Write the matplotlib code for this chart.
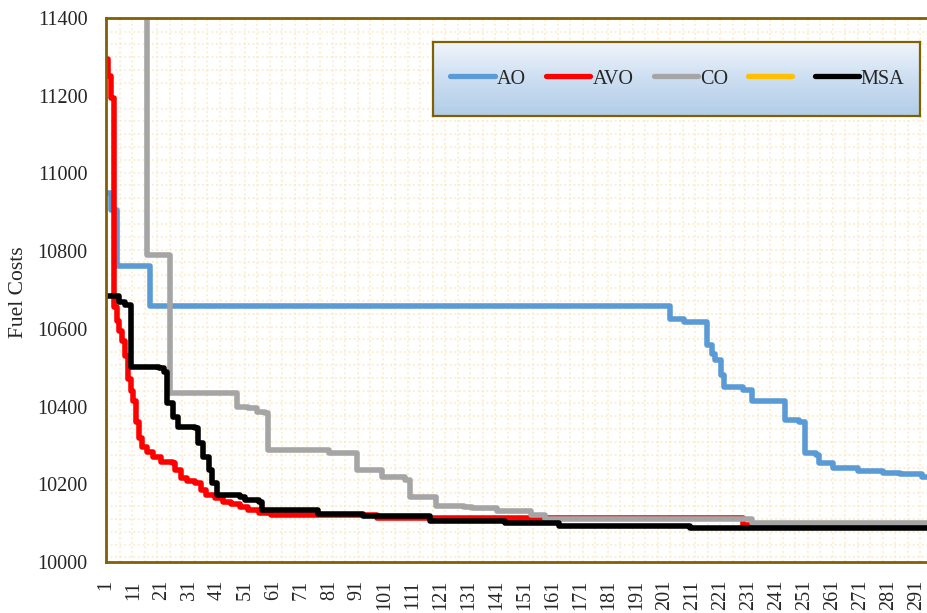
import matplotlib
matplotlib.use("Agg")
import matplotlib.pyplot as plt
import numpy as np
from matplotlib.lines import Line2D
from matplotlib.ticker import MultipleLocator
from matplotlib.colors import LinearSegmentedColormap

plt.rcParams['font.family'] = ['Liberation Serif', 'DejaVu Serif']

# Best fuel cost found so far, listed at the iterations where it improves
ao_iter = [1, 3, 5, 17, 203, 208, 216, 218, 219, 221, 222, 229, 232, 244, 249,
           251, 255, 256, 261, 270, 279, 285, 293, 300]
ao_cost = [10950, 10905, 10762, 10660, 10625, 10618, 10558, 10535, 10520, 10480,
           10450, 10443, 10415, 10366, 10361, 10280, 10275, 10256, 10243, 10233,
           10229, 10226, 10219, 10219]

avo_iter = [1, 2, 3, 4, 5, 6, 7, 8, 9, 10, 11, 12, 13, 14, 16, 18, 21, 25, 26,
            28, 30, 33, 35, 37, 40, 43, 46, 49, 52, 56, 60, 98, 229, 300]
avo_cost = [11295, 11250, 11195, 10655, 10620, 10595, 10570, 10530, 10470, 10440,
            10415, 10360, 10320, 10295, 10283, 10271, 10258, 10254, 10237, 10215,
            10208, 10203, 10185, 10172, 10165, 10155, 10148, 10142, 10133, 10127,
            10122, 10113, 10094, 10094]

co_iter = [1, 16, 24, 48, 52, 55, 58, 59, 81, 91, 100, 108, 110, 119, 129, 132,
           141, 153, 158, 232, 300]
co_cost = [12600, 10790, 10434, 10400, 10396, 10387, 10383, 10288, 10280, 10237,
           10220, 10211, 10168, 10145, 10141, 10138, 10130, 10121, 10110, 10100,
           10100]

msa_iter = [1, 6, 8, 10, 20, 22, 23, 25, 27, 33, 34, 36, 38, 39, 41, 49, 51, 56,
            57, 77, 93, 117, 144, 163, 210, 300]
msa_cost = [10684, 10670, 10661, 10503, 10499, 10490, 10408, 10374, 10348, 10344,
            10306, 10271, 10237, 10203, 10173, 10168, 10160, 10155, 10134, 10124,
            10118, 10105, 10100, 10092, 10088, 10088]

legend_labels = ["AO", "AVO", "CO", "", "MSA"]
legend_colors = ["#5B9BD5", "#FF0000", "#A5A5A5", "#FFC000", "#000000"]

x_ticks = list(range(1, 301, 10))
y_ticks = [10000, 10200, 10400, 10600, 10800, 11000, 11200, 11400]

series = [
    (ao_iter, ao_cost, "#5B9BD5"),
    (avo_iter, avo_cost, "#FF0000"),
    (co_iter, co_cost, "#A5A5A5"),
    (msa_iter, msa_cost, "#000000"),
]

W, H = 927, 613
fig = plt.figure(figsize=(W / 100, H / 100), dpi=100)
fig.patch.set_facecolor("white")

# plot area runs past the right edge of the canvas
left_px, top_px, bottom_px, px_per_iter = 105.5, 18, 562, 2.797
right_px = left_px + (x_ticks[-1] + 9 - 1) * px_per_iter
ax = fig.add_axes([left_px / W, 1 - bottom_px / H,
                   (right_px - left_px) / W, (bottom_px - top_px) / H])

for xs, ys, col in series:
    ax.plot(xs, ys, drawstyle="steps-post", color=col, lw=4.0,
            solid_joinstyle="round", solid_capstyle="butt")

ax.set_xlim(1, 300)
ax.set_ylim(10000, 11400)
ax.set_xticks(x_ticks)
ax.set_xticklabels([str(t) for t in x_ticks], rotation=90)
ax.set_yticks(y_ticks)
ax.tick_params(axis="both", which="major", length=0, pad=13, labelsize=14.5,
               colors="#262626")

# fine dotted pattern in the plot background
ax.xaxis.set_minor_locator(MultipleLocator(4.47, offset=1.7))
ax.yaxis.set_minor_locator(MultipleLocator(33, offset=13))
ax.tick_params(which="minor", length=0)
ax.grid(which="minor", color="#FCE9C4", linestyle=(0, (1.2, 1.8)), lw=1.1)
ax.grid(which="major", visible=False)
ax.set_axisbelow(True)

spine_col = "#806000"
for side in ("left", "bottom", "top"):
    ax.spines[side].set_color(spine_col)
    ax.spines[side].set_linewidth(2.0)
ax.spines["right"].set_visible(False)

fig.text(19 / W, 1 - 292 / H, "Fuel Costs", rotation=90, ha="center",
         va="center", fontsize=15.5, color="#262626")

# legend panel with a vertical blue gradient
bx0, by0, bx1, by1 = 433, 42, 920, 116
lax = fig.add_axes([bx0 / W, 1 - by1 / H, (bx1 - bx0) / W, (by1 - by0) / H],
                   zorder=3)
cmap = LinearSegmentedColormap.from_list("panel", ["#F1F5FB", "#CCDEF1", "#B2CDE8"])
lax.imshow(np.linspace(0, 1, 256).reshape(-1, 1), aspect="auto", cmap=cmap,
           extent=[0, 1, 0, 1], origin="upper")
lax.set_xticks([])
lax.set_yticks([])
for s in lax.spines.values():
    s.set_color(spine_col)
    s.set_linewidth(1.6)

handles = [Line2D([], [], color=c, lw=3.8, solid_capstyle="round")
           for c in legend_colors]
leg = fig.legend(handles, legend_labels, loc="center",
                 bbox_to_anchor=((453 + 902) / 2 / W, 1 - 79 / H),
                 ncol=5, frameon=False, fontsize=14.5, handlelength=2.2,
                 handletextpad=0.1, columnspacing=1.0, borderaxespad=0)
leg.set_zorder(10)
for t in leg.get_texts():
    t.set_color("#262626")

fig.savefig("out.png", dpi=100)
